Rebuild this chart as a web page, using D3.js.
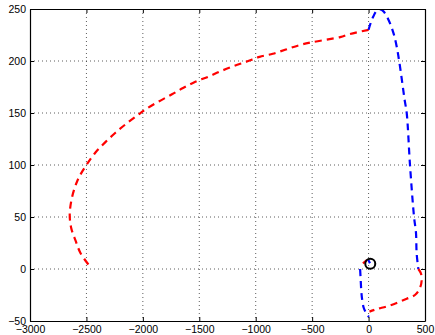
<!DOCTYPE html>
<html>
<head>
<meta charset="utf-8">
<script src="https://cdn.jsdelivr.net/npm/d3@7"></script>
<style>
  body { margin: 0; background: #fff; }
  svg { display: block; font-family: "Liberation Sans", Arial, sans-serif; }
</style>
</head>
<body>
<svg id="chart" width="435" height="335"></svg>
<script>
// tick values
const xTicks = [-3000, -2500, -2000, -1500, -1000, -500, 0, 500];
const yTicks = [-50, 0, 50, 100, 150, 200, 250];

// red dashed: long arc from the top back to the left
const redArcX = [0, -164, -252, -503, -621, -733, -848, -966, -1078, -1196, -1314, -1418, -1535, -1644, -1742, -1860, -1969, -2051, -2155, -2243, -2332, -2420, -2494, -2562, -2604, -2635, -2648, -2635, -2597, -2553, -2480, -2456];
const redArcY = [230, 226, 223, 218, 215, 211, 207, 204, 199.5, 195, 190, 185, 180, 174, 168, 161, 154, 147.5, 139, 131, 122, 112, 101, 89, 78, 65, 52, 39.5, 27.5, 15.4, 4, 1];

// blue dashed: right side, top to bottom
const blueRightX = [0, 20, 43, 70, 100, 130, 175, 220, 249, 278, 319, 338, 367, 403, 420, 426, 441];
const blueRightY = [230, 237, 243, 248, 249.5, 248, 240, 227, 214, 195, 163, 150, 100, 50, 35, 15, 0];

// red dashed: bottom hook
const redHookX = [441, 463, 471, 456, 411, 338, 249, 161, 73, 8];
const redHookY = [0, -4, -10, -18, -25, -28.6, -32.7, -36, -38.5, -41];

// blue dashed: bottom left piece
const blueLeftX = [-75, -70, -64, -56, -44, -28, -10, 2];
const blueLeftY = [0, -10, -22, -30, -37, -41, -44, -46];

// short bits inside the marker
const redBitX = [-50, -15];
const redBitY = [5.5, 8.5];
const blueBitX = [-3, 12];
const blueBitY = [9, 5.5];

// circle marker
const markerX = [15];
const markerY = [5];

const margin = { top: 9, right: 10, bottom: 14, left: 30 };
const width = 435 - margin.left - margin.right;
const height = 335 - margin.top - margin.bottom;

const x = d3.scaleLinear().domain([-3000, 500]).range([0, width]);
const y = d3.scaleLinear().domain([-50, 250]).range([height, 0]);

const svg = d3.select("#chart")
  .append("g")
  .attr("transform", "translate(" + margin.left + "," + margin.top + ")");

svg.append("defs").append("clipPath").attr("id", "clip")
  .append("rect").attr("width", width).attr("height", height);

// grid
svg.append("g").selectAll("line")
  .data(xTicks.slice(1, -1))
  .enter().append("line")
  .attr("x1", d => x(d)).attr("x2", d => x(d))
  .attr("y1", 0).attr("y2", height)
  .attr("stroke", "#333").attr("stroke-width", 0.8)
  .attr("stroke-dasharray", "1,3");

svg.append("g").selectAll("line")
  .data(yTicks.slice(1, -1))
  .enter().append("line")
  .attr("x1", 0).attr("x2", width)
  .attr("y1", d => y(d)).attr("y2", d => y(d))
  .attr("stroke", "#333").attr("stroke-width", 0.8)
  .attr("stroke-dasharray", "1,3");

const line = d3.line()
  .x(d => x(d[0]))
  .y(d => y(d[1]))
  .curve(d3.curveCatmullRom);

function zipXY(xs, ys) { return xs.map((v, i) => [v, ys[i]]); }

const plot = svg.append("g").attr("clip-path", "url(#clip)");

const series = [
  { xs: redArcX, ys: redArcY, color: "#ff0000" },
  { xs: blueRightX, ys: blueRightY, color: "#0000ff" },
  { xs: redHookX, ys: redHookY, color: "#ff0000" },
  { xs: blueLeftX, ys: blueLeftY, color: "#0000ff" },
  { xs: redBitX, ys: redBitY, color: "#ff0000" },
  { xs: blueBitX, ys: blueBitY, color: "#0000ff" }
];

series.forEach(s => {
  plot.append("path")
    .datum(zipXY(s.xs, s.ys))
    .attr("d", line)
    .attr("fill", "none")
    .attr("stroke", s.color)
    .attr("stroke-width", 2.2)
    .attr("stroke-dasharray", "7,5");
});

plot.selectAll(".marker")
  .data(zipXY(markerX, markerY))
  .enter().append("circle")
  .attr("class", "marker")
  .attr("cx", d => x(d[0]))
  .attr("cy", d => y(d[1]))
  .attr("r", 5)
  .attr("fill", "none")
  .attr("stroke", "#000")
  .attr("stroke-width", 2);

// axes (matlab style, ticks inside on all sides)
const fmt = d => d < 0 ? "\u2212" + Math.abs(d) : String(d);

svg.append("g")
  .attr("transform", "translate(0," + height + ")")
  .call(d3.axisBottom(x).tickValues(xTicks).tickSizeInner(-4).tickSizeOuter(0).tickPadding(5).tickFormat(fmt));
svg.append("g")
  .call(d3.axisTop(x).tickValues(xTicks).tickSizeInner(-4).tickSizeOuter(0).tickFormat(""));
svg.append("g")
  .call(d3.axisLeft(y).tickValues(yTicks).tickSizeInner(-4).tickSizeOuter(0).tickPadding(4).tickFormat(fmt));
svg.append("g")
  .attr("transform", "translate(" + width + ",0)")
  .call(d3.axisRight(y).tickValues(yTicks).tickSizeInner(-4).tickSizeOuter(0).tickFormat(""));

svg.selectAll(".domain").attr("stroke", "#000").attr("stroke-width", 1.2);
svg.selectAll(".tick line").attr("stroke", "#000");
svg.selectAll(".tick text").attr("font-size", 10.5).attr("fill", "#000")
  .attr("font-family", "'Liberation Sans', Arial, sans-serif");
</script>
</body>
</html>
